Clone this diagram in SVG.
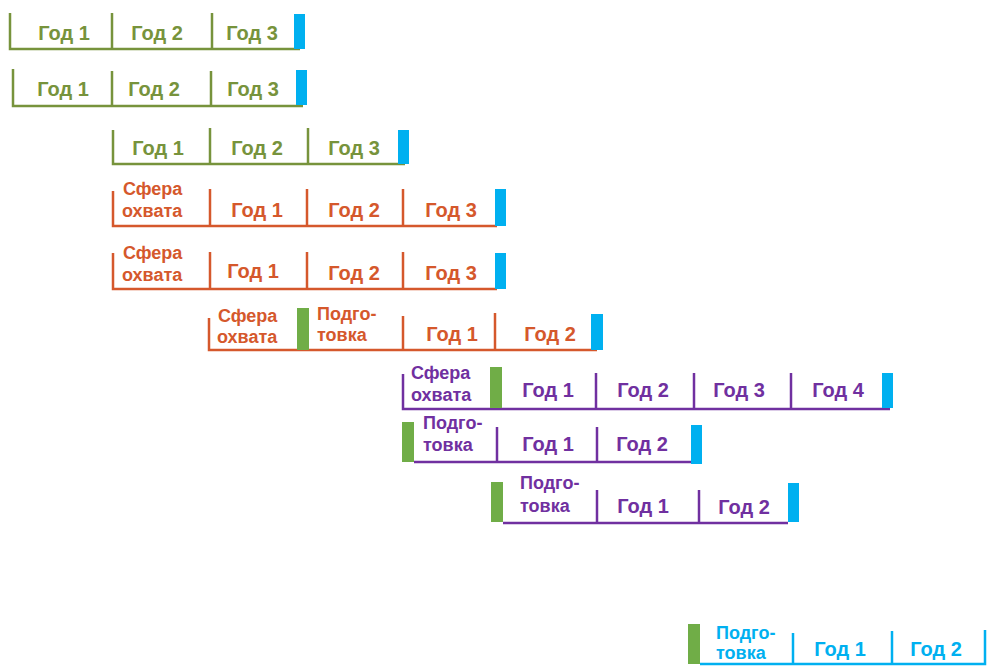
<svg xmlns="http://www.w3.org/2000/svg" width="989" height="667" viewBox="0 0 989 667">
<style>
text{font-family:"Liberation Sans",Arial,sans-serif;font-weight:bold;font-size:18px;}
.m{text-anchor:middle;font-size:20px}
.g line,.g polyline{stroke:#77933C}
.o line,.o polyline{stroke:#D5582C}
.p line,.p polyline{stroke:#7030A0}
.c line,.c polyline{stroke:#00B0F0}
line,polyline{stroke-width:2.5;fill:none}
.g text{fill:#77933C}
.o text{fill:#D5582C}
.p text{fill:#7030A0}
.c text{fill:#00B0F0}
.end{fill:#00B0F0}
.start{fill:#70AD47}
</style>
<rect width="989" height="667" fill="#fff"/>
<g id="row1" class="g">
<polyline points="10,13 10,49 300,49"/>
<line x1="112" y1="13" x2="112" y2="49"/>
<line x1="212" y1="13" x2="212" y2="49"/>
<rect class="end" x="294" y="14" width="11" height="35"/>
<text class="m" x="64" y="40">Год 1</text>
<text class="m" x="157" y="40">Год 2</text>
<text class="m" x="252" y="40">Год 3</text>
</g>
<g id="row2" class="g">
<polyline points="13,69 13,106 303,106"/>
<line x1="112" y1="71" x2="112" y2="106"/>
<line x1="211" y1="71" x2="211" y2="106"/>
<rect class="end" x="296" y="70" width="11" height="35"/>
<text class="m" x="63" y="96">Год 1</text>
<text class="m" x="154" y="96">Год 2</text>
<text class="m" x="253" y="96">Год 3</text>
</g>
<g id="row3" class="g">
<polyline points="113,130 113,164 405,164"/>
<line x1="210" y1="128" x2="210" y2="164"/>
<line x1="308" y1="128" x2="308" y2="164"/>
<rect class="end" x="398" y="130" width="11" height="34"/>
<text class="m" x="158" y="155">Год 1</text>
<text class="m" x="257" y="155">Год 2</text>
<text class="m" x="354" y="155">Год 3</text>
</g>
<g id="row4" class="o">
<polyline points="113,191 113,226 497,226"/>
<line x1="210" y1="189" x2="210" y2="226"/>
<line x1="307" y1="189" x2="307" y2="226"/>
<line x1="403" y1="189" x2="403" y2="226"/>
<rect class="end" x="495" y="189" width="11" height="37"/>
<text x="123" y="195">Сфера</text>
<text x="122" y="217">охвата</text>
<text class="m" x="257" y="217">Год 1</text>
<text class="m" x="354" y="217">Год 2</text>
<text class="m" x="451" y="217">Год 3</text>
</g>
<g id="row5" class="o">
<polyline points="113,253 113,289 497,289"/>
<line x1="210" y1="252" x2="210" y2="289"/>
<line x1="307" y1="252" x2="307" y2="289"/>
<line x1="403" y1="252" x2="403" y2="289"/>
<rect class="end" x="495" y="253" width="11" height="36"/>
<text x="123" y="259">Сфера</text>
<text x="122" y="281">охвата</text>
<text class="m" x="253" y="278">Год 1</text>
<text class="m" x="354" y="280">Год 2</text>
<text class="m" x="451" y="280">Год 3</text>
</g>
<g id="row6" class="o">
<polyline points="209,318 209,350 597,350"/>
<line x1="403" y1="316" x2="403" y2="350"/>
<line x1="495" y1="313" x2="495" y2="350"/>
<rect class="start" x="297" y="308" width="12" height="42"/>
<rect class="end" x="591" y="314" width="12" height="36"/>
<text x="218" y="322">Сфера</text>
<text x="217" y="343">охвата</text>
<text x="317" y="320">Подго-</text>
<text x="317" y="341">товка</text>
<text class="m" x="452" y="341">Год 1</text>
<text class="m" x="550" y="341">Год 2</text>
</g>
<g id="row7" class="p">
<polyline points="403,374 403,409 890,409"/>
<line x1="596" y1="373" x2="596" y2="409"/>
<line x1="694" y1="373" x2="694" y2="409"/>
<line x1="791" y1="373" x2="791" y2="409"/>
<rect class="start" x="490" y="367" width="12" height="41"/>
<rect class="end" x="882" y="373" width="11" height="35"/>
<text x="411" y="379">Сфера</text>
<text x="411" y="401">охвата</text>
<text class="m" x="548" y="397">Год 1</text>
<text class="m" x="643" y="397">Год 2</text>
<text class="m" x="739" y="397">Год 3</text>
<text class="m" x="838" y="397">Год 4</text>
</g>
<g id="row8" class="p">
<polyline points="414,462 692,462"/>
<line x1="497" y1="427" x2="497" y2="462"/>
<line x1="597" y1="427" x2="597" y2="462"/>
<rect class="start" x="402" y="422" width="12" height="40"/>
<rect class="end" x="691" y="425" width="11" height="39"/>
<text x="423" y="429">Подго-</text>
<text x="423" y="451">товка</text>
<text class="m" x="548" y="451">Год 1</text>
<text class="m" x="642" y="451">Год 2</text>
</g>
<g id="row9" class="p">
<polyline points="503,523 788,523"/>
<line x1="597" y1="490" x2="597" y2="523"/>
<line x1="699" y1="490" x2="699" y2="523"/>
<rect class="start" x="491" y="482" width="12" height="40"/>
<rect class="end" x="788" y="483" width="11" height="39"/>
<text x="520" y="489">Подго-</text>
<text x="520" y="512">товка</text>
<text class="m" x="643" y="513">Год 1</text>
<text class="m" x="744" y="514">Год 2</text>
</g>
<g id="row10" class="c">
<polyline points="700,664 985,664 985,630"/>
<line x1="793" y1="633" x2="793" y2="664"/>
<line x1="892" y1="631" x2="892" y2="664"/>
<rect class="start" x="688" y="624" width="12" height="40"/>
<text x="716" y="639">Подго-</text>
<text x="716" y="659">товка</text>
<text class="m" x="840" y="656">Год 1</text>
<text class="m" x="936" y="656">Год 2</text>
</g>
</svg>
